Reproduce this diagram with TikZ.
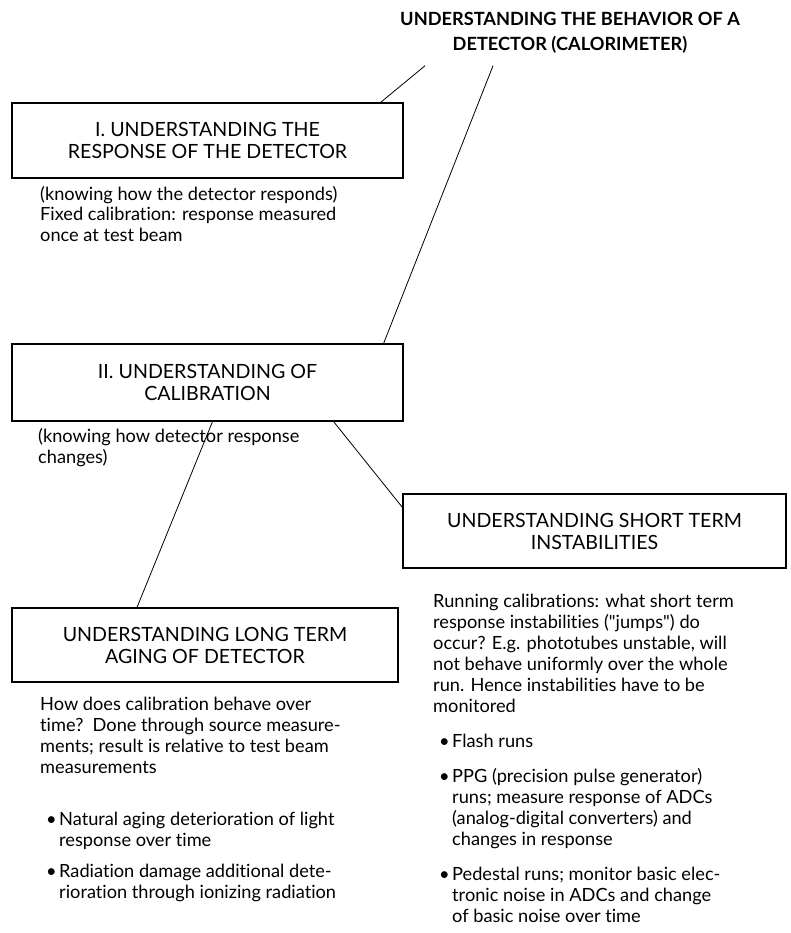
\documentclass[tikz,border=0pt]{standalone}
\usepackage{fontspec}
\setmainfont[Ligatures={NoCommon}]{Lato}
\usetikzlibrary{positioning}
\newcommand{\bul}{\hspace*{6pt}\makebox[13pt][l]{\textbullet}}
\newcommand{\ind}{\hspace*{19pt}}

\begin{document}
\begin{tikzpicture}[x=1pt,y=-1pt,
    heading/.style={font=\bfseries\fontsize{18.2}{25}\selectfont, align=center, inner sep=0pt},
    stage/.style={rectangle, draw, line width=1.2pt, minimum width=391pt, minimum height=75pt, align=center, font=\fontsize{19.6}{22}\selectfont, inner sep=0pt},
    note/.style={align=left, anchor=north west, inner sep=0pt, font=\fontsize{18.2}{21}\selectfont},
    link/.style={line width=0.8pt}
]
\useasboundingbox (0,0) rectangle (790,933);

\node[heading] (title) at (570,33) {UNDERSTANDING THE BEHAVIOR OF A\\ DETECTOR (CALORIMETER)};

\node[stage] (response) at (207.5,140.5) {I. UNDERSTANDING THE\\ RESPONSE OF THE DETECTOR};
\node[stage, minimum height=77pt] (calib) at (207.5,382.5) {II. UNDERSTANDING OF\\ CALIBRATION};
\node[stage, minimum width=386pt, minimum height=74pt] (longterm) at (205,645) {UNDERSTANDING LONG TERM\\ AGING OF DETECTOR};
\node[stage, minimum width=383pt, minimum height=74pt] (shortterm) at (594.5,531) {UNDERSTANDING SHORT TERM\\ INSTABILITIES};

\node[note] (respnote) at (40,186) {(knowing how the detector responds)\\[-1pt]
    Fixed calibration: response measured\\ once at test beam};
\node[note] (calibnote) at (38,428) {(knowing how detector response\\ changes)};
\node[note] (longnote) at (40,697) {How does calibration behave over\\
    time?\ \ Done through source measure-\\ ments; result is relative to test beam\\ measurements\\[31pt]
    \bul Natural aging deterioration of light\\ \ind response over time\\[10pt]
    \bul Radiation damage additional dete-\\ \ind rioration through ionizing radiation};
\node[note] (shortnote) at (433,594) {Running calibrations: what short term\\
    response instabilities (\textquotedbl jumps\textquotedbl) do\\ occur? E.g. phototubes unstable, will\\
    not behave uniformly over the whole\\ run. Hence instabilities have to be\\ monitored\\[14pt]
    \bul Flash runs\\[14pt]
    \bul PPG (precision pulse generator)\\ \ind runs; measure response of ADCs\\
    \ind (analog-digital converters) and\\ \ind changes in response\\[14pt]
    \bul Pedestal runs; monitor basic elec-\\ \ind tronic noise in ADCs and change\\ \ind of basic noise over time};

\draw[link] ([xshift=-145pt,yshift=-12pt]title.south) -- ([xshift=-23pt]response.north east);
\draw[link] ([xshift=-77pt,yshift=-12pt]title.south) -- ([xshift=-20pt]calib.north east);
\draw[link] ([xshift=5pt]calib.south) -- ([xshift=-68pt]longterm.north);
\draw[link] ([xshift=-70pt]calib.south east) -- ([yshift=-14pt]shortterm.north west);

\end{tikzpicture}
\end{document}
